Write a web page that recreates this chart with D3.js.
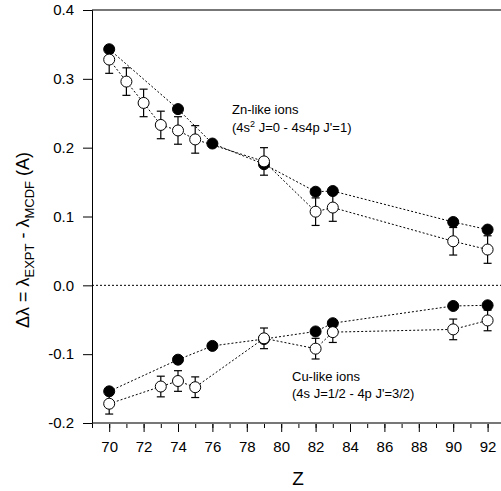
<!DOCTYPE html>
<html lang="en">
<head>
<meta charset="utf-8">
<title>Zn-like and Cu-like ions</title>
<script src="https://d3js.org/d3.v7.min.js"></script>
<style>
  body { margin: 0; background: #fff; }
  svg { display: block; font-family: "Liberation Sans", Arial, sans-serif; }
</style>
</head>
<body>
<script>
// Zn-like ions
var znFilledZ = [70, 74, 76, 79, 82, 83, 90, 92];
var znFilled  = [0.343, 0.256, 0.206, 0.176, 0.136, 0.137, 0.092, 0.081];
var znOpenZ   = [70, 71, 72, 73, 74, 75, 79, 82, 83, 90, 92];
var znOpen    = [0.328, 0.296, 0.265, 0.233, 0.225, 0.212, 0.180, 0.107, 0.113, 0.064, 0.052];
var znErr     = [0.02, 0.02, 0.02, 0.02, 0.02, 0.02, 0.02, 0.02, 0.02, 0.02, 0.02];

// Cu-like ions
var cuFilledZ = [70, 74, 76, 79, 82, 83, 90, 92];
var cuFilled  = [-0.154, -0.108, -0.088, -0.078, -0.067, -0.055, -0.030, -0.029];
var cuOpenZ   = [70, 73, 74, 75, 79, 82, 83, 90, 92];
var cuOpen    = [-0.172, -0.147, -0.139, -0.148, -0.077, -0.092, -0.068, -0.064, -0.051];
var cuErr     = [0.015, 0.015, 0.015, 0.015, 0.015, 0.015, 0.015, 0.015, 0.015];

var xTicks = [70, 72, 74, 76, 78, 80, 82, 84, 86, 88, 90, 92];
var yTicks = [-0.2, -0.1, 0.0, 0.1, 0.2, 0.3, 0.4];

var W = 501, H = 491;
var plotLeft = 92, plotTop = 10, plotBottom = 423;

var svg = d3.select("body").append("svg")
  .attr("width", W).attr("height", H);

var x = d3.scaleLinear().domain([69, 93]).range([plotLeft, plotLeft + 24 * 17.2]);
var y = d3.scaleLinear().domain([-0.2, 0.4]).range([plotBottom, plotTop]);

// zero line
svg.append("line")
  .attr("x1", x(69)).attr("x2", W)
  .attr("y1", y(0)).attr("y2", y(0))
  .attr("stroke", "#000").attr("stroke-width", 1)
  .attr("stroke-dasharray", "2,2");

// top frame
svg.append("line")
  .attr("x1", plotLeft).attr("x2", W)
  .attr("y1", plotTop).attr("y2", plotTop)
  .attr("stroke", "#777").attr("stroke-width", 2);

// x axis: minor ticks every unit, major every 2
var xg = svg.append("g").attr("transform", "translate(0," + plotBottom + ")");
xg.call(d3.axisBottom(x).tickValues(d3.range(69, 94)).tickSize(5).tickFormat(""));
xg.select(".domain").remove();
var xg2 = svg.append("g").attr("transform", "translate(0," + plotBottom + ")");
xg2.call(d3.axisBottom(x).tickValues(xTicks).tickSize(9).tickPadding(9).tickFormat(d3.format("d")));
xg2.select(".domain").remove();
xg2.selectAll("text").attr("font-size", 15).attr("fill", "#000")
  .attr("font-family", "Liberation Sans, Arial, sans-serif");
svg.append("line")
  .attr("x1", plotLeft).attr("x2", W)
  .attr("y1", plotBottom).attr("y2", plotBottom)
  .attr("stroke", "#777").attr("stroke-width", 2);

// y axis
var yg = svg.append("g").attr("transform", "translate(" + plotLeft + ",0)");
yg.call(d3.axisLeft(y).tickValues(yTicks).tickSize(9).tickPadding(9)
  .tickFormat(function(d) { return d3.format(".1f")(d).replace("\u2212", "-"); }));
yg.select(".domain").attr("stroke", "#000");
yg.selectAll("text").attr("font-size", 15).attr("fill", "#000")
  .attr("font-family", "Liberation Sans, Arial, sans-serif");

// connecting dotted lines
function drawLine(zs, vs) {
  var pts = zs.map(function(z, i) { return [x(z), y(vs[i])]; });
  svg.append("path")
    .attr("d", d3.line()(pts))
    .attr("fill", "none").attr("stroke", "#000").attr("stroke-width", 1)
    .attr("stroke-dasharray", "2,2");
}
drawLine(znFilledZ, znFilled);
drawLine(znOpenZ, znOpen);
drawLine(cuFilledZ, cuFilled);
drawLine(cuOpenZ, cuOpen);

// error bars
function drawErr(zs, vs, es) {
  var g = svg.append("g").attr("stroke", "#000").attr("stroke-width", 1.2);
  zs.forEach(function(z, i) {
    var cx = x(z), y1 = y(vs[i] + es[i]), y2 = y(vs[i] - es[i]);
    g.append("line").attr("x1", cx).attr("x2", cx).attr("y1", y1).attr("y2", y2);
    g.append("line").attr("x1", cx - 4).attr("x2", cx + 4).attr("y1", y1).attr("y2", y1);
    g.append("line").attr("x1", cx - 4).attr("x2", cx + 4).attr("y1", y2).attr("y2", y2);
  });
}

function drawDots(zs, vs, filled) {
  svg.append("g").selectAll("circle")
    .data(zs).enter().append("circle")
    .attr("cx", function(d) { return x(d); })
    .attr("cy", function(d, i) { return y(vs[i]); })
    .attr("r", 5.5)
    .attr("fill", filled ? "#000" : "#fff")
    .attr("stroke", "#000").attr("stroke-width", 1);
}

drawErr(znOpenZ, znOpen, znErr);
drawErr(cuOpenZ, cuOpen, cuErr);
drawDots(znFilledZ, znFilled, true);
drawDots(cuFilledZ, cuFilled, true);
drawDots(znOpenZ, znOpen, false);
drawDots(cuOpenZ, cuOpen, false);

// annotations
var ann = svg.append("g").attr("font-size", 13).attr("fill", "#000");
ann.append("text").attr("x", 232).attr("y", 114).text("Zn-like ions");
var t2 = ann.append("text").attr("x", 232).attr("y", 132);
t2.append("tspan").text("(4s");
t2.append("tspan").attr("dy", -5).attr("font-size", 9).text("2");
t2.append("tspan").attr("dy", 5).text(" J=0 - 4s4p J'=1)");
ann.append("text").attr("x", 292).attr("y", 381).text("Cu-like ions");
ann.append("text").attr("x", 292).attr("y", 398).text("(4s J=1/2 - 4p J'=3/2)");

// axis titles
svg.append("text")
  .attr("x", 298).attr("y", 485)
  .attr("text-anchor", "middle").attr("font-size", 19).text("Z");

var yl = svg.append("text")
  .attr("transform", "translate(29,240) rotate(-90)")
  .attr("text-anchor", "middle").attr("font-size", 18);
yl.append("tspan").text("\u0394\u03bb = \u03bb");
yl.append("tspan").attr("dy", 5).attr("font-size", 13).text("EXPT");
yl.append("tspan").attr("dy", -5).text(" - \u03bb");
yl.append("tspan").attr("dy", 5).attr("font-size", 13).text("MCDF");
yl.append("tspan").attr("dy", -5).text(" (A)");
</script>
</body>
</html>
